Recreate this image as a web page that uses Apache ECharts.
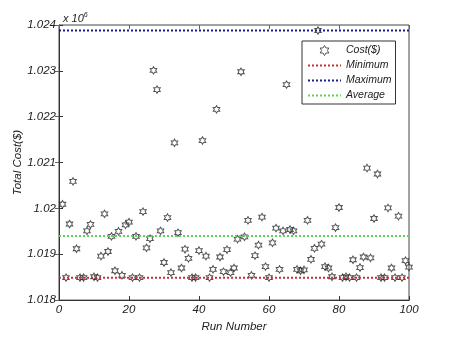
<!DOCTYPE html>
<html>
<head>
<meta charset="utf-8">
<script src="https://cdn.jsdelivr.net/npm/echarts@6/dist/echarts.min.js"></script>
<style>
  html, body { margin: 0; padding: 0; background: #fff; }
  #chart { width: 452px; height: 338px; }
</style>
</head>
<body>
<div id="chart"></div>
<script>
// Total cost per run, in dollars (axis is x 10^6)
const runs = Array.from({ length: 100 }, (_, i) => i + 1)
const costs = [
  1020090, 1018490, 1019660, 1020590, 1019120, 1018490, 1018490, 1019510, 1019650, 1018510,
  1018490, 1018960, 1019880, 1019060, 1019390, 1018640, 1019500, 1018540, 1019640, 1019700,
  1018490, 1019390, 1018490, 1019930, 1019140, 1019340, 1023010, 1022590, 1019510, 1018820,
  1019800, 1018600, 1021430, 1019470, 1018700, 1019110, 1018910, 1018490, 1018490, 1019080,
  1021480, 1018960, 1018490, 1018670, 1022160, 1018940, 1018620, 1019100, 1018600, 1018700,
  1019330, 1022980, 1019380, 1019740, 1018540, 1018970, 1019200, 1019810, 1018730, 1018490,
  1019250, 1019570, 1018670, 1019510, 1022700, 1019540, 1019510, 1018670, 1018640, 1018660,
  1019740, 1018890, 1019130, 1023880, 1019220, 1018730, 1018700, 1018510, 1019580, 1020020,
  1018490, 1018510, 1018490, 1018880, 1018490, 1018710, 1018940, 1020880, 1018920, 1019780,
  1020750, 1018490, 1018490, 1020010, 1018700, 1018490, 1019830, 1018490, 1018860, 1018720
]
const minimum = 1018490
const maximum = 1023880
const average = 1019400
const xTicks = [0, 100]

const hexagram = 'path://M10 0L12.887 5L18.66 5L15.774 10L18.66 15L12.887 15L10 20L7.113 15L1.34 15L4.226 10L1.34 5L7.113 5Z'
const font = 'Liberation Sans, Arial, sans-serif'
const txt = { fontFamily: font, fontStyle: 'italic', fontSize: 11, color: '#222' }

const chart = echarts.init(document.getElementById('chart'))

const hLine = v => xTicks.map(x => [x, v])

chart.setOption({
  animation: false,
  title: {
    left: 58,
    top: 7,
    text: 'x 10{s|6}',
    textStyle: {
      fontFamily: font, fontStyle: 'italic', fontSize: 11, fontWeight: 'normal', color: '#222',
      rich: { s: { fontFamily: font, fontStyle: 'italic', fontSize: 7, verticalAlign: 'top', padding: [0, 0, 6, 0] } }
    }
  },
  grid: { left: 59, right: 43, top: 25, bottom: 37, show: true, borderColor: '#444', borderWidth: 1 },
  xAxis: [
    {
      type: 'value', min: 0, max: 100, interval: 20,
      name: 'Run Number', nameLocation: 'middle', nameGap: 14,
      nameTextStyle: { ...txt, fontSize: 11.5 },
      axisLine: { lineStyle: { color: '#333' } },
      axisTick: { inside: true, length: 4, lineStyle: { color: '#333' } },
      axisLabel: { ...txt, fontSize: 11.5, margin: 4 },
      splitLine: { show: false }
    },
    {
      type: 'value', min: 0, max: 100, interval: 20, position: 'top',
      axisLine: { show: false },
      axisTick: { show: true, inside: true, length: 4, lineStyle: { color: '#666' } },
      axisLabel: { show: false },
      splitLine: { show: false }
    }
  ],
  yAxis: [
    {
      type: 'value', min: 1018000, max: 1024000, interval: 1000,
      name: 'Total Cost($)', nameLocation: 'middle', nameGap: 35, nameRotate: 90,
      nameMoveOverlap: false,
      nameTextStyle: { ...txt, fontSize: 11.5 },
      axisLine: { show: true, lineStyle: { color: '#333' } },
      axisTick: { show: true, inside: true, length: 4, lineStyle: { color: '#333' } },
      axisLabel: { ...txt, fontSize: 11.5, margin: 3, formatter: v => String(v / 1e6) },
      splitLine: { show: false }
    },
    {
      type: 'value', min: 1018000, max: 1024000, interval: 1000, position: 'right',
      axisLine: { show: false },
      axisTick: { show: true, inside: true, length: 4, lineStyle: { color: '#666' } },
      axisLabel: { show: false },
      splitLine: { show: false }
    }
  ],
  legend: {
    orient: 'vertical',
    left: 302, top: 41,
    padding: [4, 4, 3, 5],
    itemGap: 4,
    itemWidth: 33, itemHeight: 10,
    backgroundColor: '#fff',
    borderColor: '#333', borderWidth: 1, borderRadius: 0,
    textStyle: { ...txt, fontSize: 10.5 },
    data: [
      { name: 'Cost($)', icon: hexagram, itemStyle: { color: 'transparent', borderColor: '#333', borderWidth: 1 } },
      { name: 'Minimum', itemStyle: { opacity: 0 } },
      { name: 'Maximum', itemStyle: { opacity: 0 } },
      { name: 'Average', itemStyle: { opacity: 0 } }
    ]
  },
  series: [
    {
      name: 'Cost($)',
      type: 'scatter',
      data: runs.map((r, i) => [r, costs[i]]),
      symbol: hexagram,
      symbolSize: [6.5, 7.5],
      itemStyle: { color: 'transparent', borderColor: '#2a2a2a', borderWidth: 1 }
    },
    {
      name: 'Minimum', type: 'line', data: hLine(minimum), symbol: 'none',
      lineStyle: { color: '#c83030', width: 2, type: [2, 2] }, itemStyle: { color: '#c83030' }
    },
    {
      name: 'Maximum', type: 'line', data: hLine(maximum), symbol: 'none',
      lineStyle: { color: '#1c1c8c', width: 2, type: [2, 2] }, itemStyle: { color: '#1c1c8c' }
    },
    {
      name: 'Average', type: 'line', data: hLine(average), symbol: 'none',
      lineStyle: { color: '#5cd45c', width: 2, type: [2, 2] }, itemStyle: { color: '#5cd45c' }
    }
  ]
})
</script>
</body>
</html>
